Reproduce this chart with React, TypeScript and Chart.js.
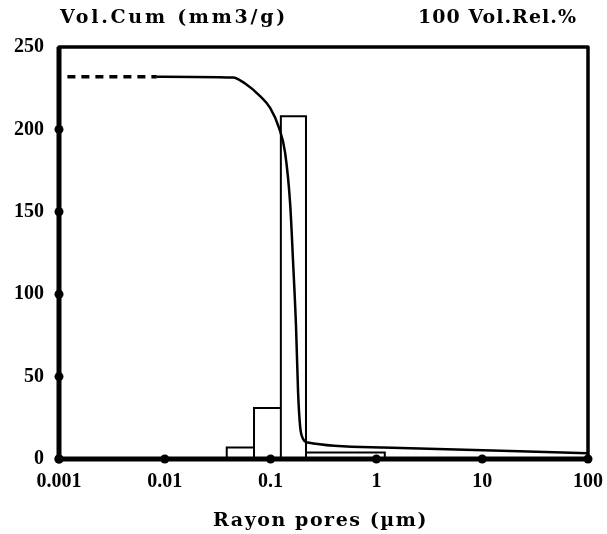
import React, { useEffect, useRef } from "react";
import { Chart, registerables } from "chart.js";

Chart.register(...registerables);

// ---- data ----
const xTicks = [0.001, 0.01, 0.1, 1, 10, 100];
const xTickLabels = ["0.001", "0.01", "0.1", "1", "10", "100"];
const yTicks = [0, 50, 100, 150, 200, 250];

// cumulative volume curve (mm3/g) vs pore radius (µm)
const dashedX = [0.0012, 0.0084];
const dashedY = [232, 232];
const curveX = [0.0084, 0.044, 0.057, 0.08, 0.099, 0.12, 0.137, 0.153, 0.163, 0.174, 0.182, 0.19, 0.2, 0.225, 1.15, 100];
const curveY = [232, 231.5, 228, 220, 213, 201, 186, 155, 120, 80, 40, 20, 13, 10, 7, 3.5];

// relative volume histogram (bin edges in µm, heights)
const binEdges = [0.0385, 0.0697, 0.125, 0.216, 1.2];
const binHeights = [7, 31, 208, 4];

const TITLE_FONT = "bold 19px 'DejaVu Serif', serif";
const TICK_FONT = "'Liberation Serif', 'DejaVu Serif', serif";

function fitText(ctx: any, text: string, x0: number, x1: number, y: number) {
  (ctx as any).letterSpacing = "0px";
  const w = ctx.measureText(text).width;
  const n = text.length;
  const sp = Math.max(0, (x1 - x0 - w) / n);
  (ctx as any).letterSpacing = sp + "px";
  ctx.textAlign = "left";
  ctx.fillText(text, x0, y);
}

const decor = {
  id: "decor",
  afterDatasetsDraw(chart: any) {
    const { ctx, chartArea: a, scales } = chart;
    ctx.save();
    ctx.strokeStyle = "#000";
    ctx.fillStyle = "#000";
    ctx.lineJoin = "round";
    ctx.lineWidth = 3.5;
    ctx.strokeRect(a.left, a.top, a.right - a.left, a.bottom - a.top);
    ctx.lineWidth = 5;
    ctx.beginPath();
    ctx.moveTo(a.left, a.top);
    ctx.lineTo(a.left, a.bottom);
    ctx.lineTo(a.right, a.bottom);
    ctx.stroke();
    yTicks.forEach((v) => {
      if (v === 250) return;
      const y = scales.y.getPixelForValue(v);
      ctx.beginPath();
      ctx.arc(a.left, y, 4.5, 0, Math.PI * 2);
      ctx.fill();
    });
    xTicks.forEach((v) => {
      const x = scales.x.getPixelForValue(v);
      ctx.beginPath();
      ctx.arc(x, a.bottom, 4.5, 0, Math.PI * 2);
      ctx.fill();
    });
    ctx.font = TITLE_FONT;
    ctx.textBaseline = "middle";
    fitText(ctx, "Vol.Cum (mm3/g)", 60, 288, 18);
    fitText(ctx, "100 Vol.Rel.%", 418, 577, 18);
    fitText(ctx, "Rayon pores (µm)", 213, 428, 521);
    ctx.restore();
  },
};

export default function App() {
  const ref = useRef<HTMLCanvasElement | null>(null);

  useEffect(() => {
    if (!ref.current) return;
    const barPts: { x: number; y: number }[] = [];
    for (let i = 0; i < binHeights.length; i++) {
      barPts.push({ x: binEdges[i], y: 0 });
      barPts.push({ x: binEdges[i], y: binHeights[i] });
      barPts.push({ x: binEdges[i + 1], y: binHeights[i] });
      barPts.push({ x: binEdges[i + 1], y: 0 });
    }
    const chart = new Chart(ref.current, {
      type: "line",
      data: {
        datasets: [
          {
            label: "Vol.Rel.%",
            data: barPts,
            borderColor: "#000",
            borderWidth: 2,
            pointRadius: 0,
            tension: 0,
            fill: false,
          },
          {
            label: "Vol.Cum dashed",
            data: dashedX.map((x, i) => ({ x, y: dashedY[i] })),
            borderColor: "#000",
            borderWidth: 3.5,
            borderDash: [8, 6],
            pointRadius: 0,
            fill: false,
          },
          {
            label: "Vol.Cum",
            data: curveX.map((x, i) => ({ x, y: curveY[i] })),
            borderColor: "#000",
            borderWidth: 2.5,
            pointRadius: 0,
            cubicInterpolationMode: "monotone",
            fill: false,
          },
        ],
      },
      options: {
        animation: false,
        responsive: false,
        devicePixelRatio: 1,
        parsing: false as any,
        layout: { padding: { top: 47, right: 19, left: 0, bottom: 0 } },
        plugins: { legend: { display: false }, tooltip: { enabled: false } },
        scales: {
          x: {
            type: "logarithmic",
            min: 0.001,
            max: 100,
            grid: { display: false, drawTicks: false },
            border: { display: false },
            afterBuildTicks: (s: any) => {
              s.ticks = xTicks.map((v) => ({ value: v }));
            },
            afterFit: (s: any) => {
              s.height = 75;
              s.paddingLeft = 0;
              s.paddingRight = 0;
            },
            ticks: {
              autoSkip: false,
              maxRotation: 0,
              padding: 11,
              color: "#000",
              font: { family: TICK_FONT, size: 20, weight: "bold" },
              callback: (_v: any, i: number) => xTickLabels[i],
            },
          },
          y: {
            type: "linear",
            min: 0,
            max: 250,
            grid: { display: false, drawTicks: false },
            border: { display: false },
            afterBuildTicks: (s: any) => {
              s.ticks = yTicks.map((v) => ({ value: v }));
            },
            afterFit: (s: any) => {
              s.width = 59;
              s.paddingTop = 0;
              s.paddingBottom = 0;
            },
            ticks: {
              padding: 15,
              color: "#000",
              font: { family: TICK_FONT, size: 20, weight: "bold" },
            },
          },
        },
      },
      plugins: [decor],
    } as any);
    return () => chart.destroy();
  }, []);

  return (
    <div style={{ position: "absolute", left: 0, top: 0, width: 607, height: 534, background: "#fff" }}>
      <canvas ref={ref} width={607} height={534} style={{ width: 607, height: 534, display: "block" }} />
    </div>
  );
}
